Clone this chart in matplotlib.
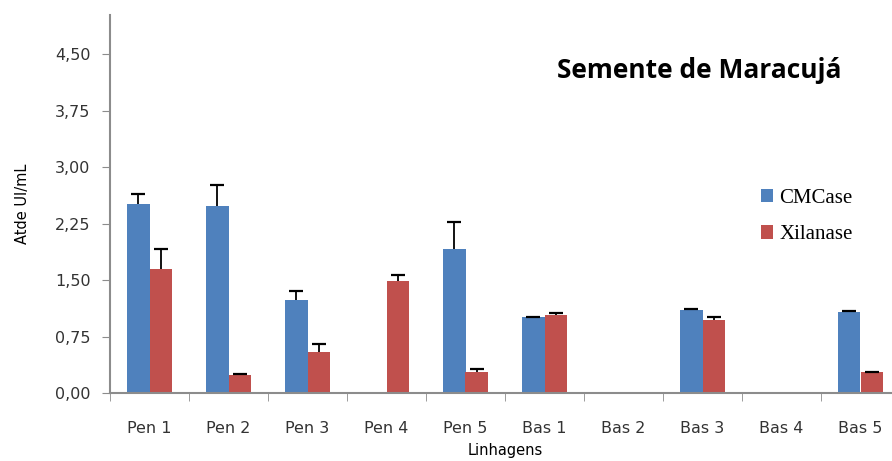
import numpy as np
import matplotlib
matplotlib.use("Agg")
import matplotlib.pyplot as plt
from matplotlib.ticker import FuncFormatter, MultipleLocator

linhagens = ["Pen 1", "Pen 2", "Pen 3", "Pen 4", "Pen 5",
             "Bas 1", "Bas 2", "Bas 3", "Bas 4", "Bas 5"]
cmcase = [2.51, 2.48, 1.23, 0.0, 1.91, 1.01, 0.0, 1.10, 0.0, 1.08]
cmcase_err = [0.13, 0.28, 0.13, 0.0, 0.36, 0.005, 0.0, 0.01, 0.0, 0.01]
xilanase = [1.65, 0.24, 0.54, 1.49, 0.28, 1.04, 0.0, 0.97, 0.0, 0.28]
xilanase_err = [0.26, 0.01, 0.11, 0.08, 0.04, 0.02, 0.0, 0.04, 0.0, 0.005]

blue = "#4F81BD"
red = "#C0504D"
grey = "#8C8C8C"

fig = plt.figure(figsize=(8.92, 4.61), dpi=100)
ax = fig.add_axes([110 / 892, 68 / 461, 790 / 892, 378 / 461])

x = np.arange(len(linhagens))
w = 0.28

def plus_errors(xpos, vals, errs):
    vals = np.array(vals)
    errs = np.array(errs)
    has = vals > 0
    ax.errorbar(xpos[has], vals[has], yerr=[np.zeros(has.sum()), errs[has]],
                fmt="none", ecolor="black", elinewidth=1.3, capsize=0, zorder=3)
    ax.plot(xpos[has], (vals + errs)[has], ls="none", marker="_",
            markersize=10, markeredgewidth=1.6, color="black", zorder=3)

ax.bar(x - w / 2, cmcase, w, color=blue, label="CMCase")
ax.bar(x + w / 2, xilanase, w, color=red, label="Xilanase")
plus_errors(x - w / 2, cmcase, cmcase_err)
plus_errors(x + w / 2, xilanase, xilanase_err)

ax.set_xlim(-0.5, 9.5)
ax.set_ylim(0, 5.02)
ax.yaxis.set_major_locator(MultipleLocator(0.75))
ax.yaxis.set_major_formatter(FuncFormatter(lambda v, p: f"{v:.2f}".replace(".", ",")))

ax.set_xticks(x)
ax.set_xticklabels(linhagens)
ax.set_xticks(np.arange(-0.5, 9.6, 1), minor=True)
ax.tick_params(axis="x", which="major", length=0, pad=20)
ax.tick_params(axis="x", which="minor", length=6, color=grey)
ax.tick_params(axis="y", length=6, color=grey, pad=8)
for lab in ax.get_xticklabels() + ax.get_yticklabels():
    lab.set_fontsize(11.5)
    lab.set_color("#333333")

for s in ["top", "right"]:
    ax.spines[s].set_visible(False)
for s in ["left", "bottom"]:
    ax.spines[s].set_color(grey)
    ax.spines[s].set_linewidth(1.5)

ax.set_ylabel("Atde UI/mL", fontsize=10.5, labelpad=18)
ax.set_xlabel("Linhagens", fontsize=10.5, labelpad=5)

ax.legend(loc="upper left", bbox_to_anchor=(0.80, 0.59), frameon=False,
          prop={"family": "Liberation Serif", "size": 15},
          handlelength=0.6, handleheight=0.6, handletextpad=0.3,
          labelspacing=0.85)

fig.text(557 / 892, 1 - 70 / 461, "Semente de Maracujá", fontsize=19,
         fontweight="bold", family="Open Sans", va="center", ha="left")

fig.savefig("out.png", dpi=100)
